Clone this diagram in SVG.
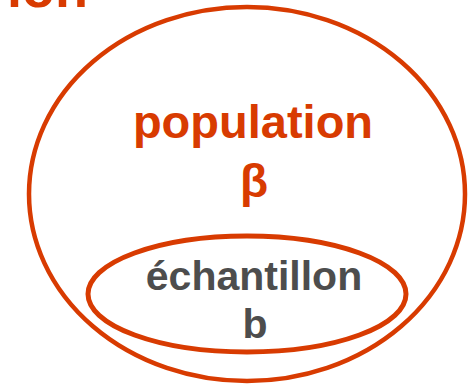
<svg xmlns="http://www.w3.org/2000/svg" width="468" height="388" viewBox="0 0 468 388">
<style>
.ell{fill:none;stroke:#D83B01;}
.t{font-family:"Liberation Sans",Arial,sans-serif;font-weight:bold;text-anchor:middle;}
.o{fill:#D83B01;}
.g{fill:#4D4D4D;}
</style>
<rect width="468" height="388" fill="#fff"/>
<text class="t o" x="88" y="7" style="text-anchor:end" font-size="54">ion</text>
<g id="population">
<ellipse class="ell" cx="247" cy="194" rx="218" ry="187" stroke-width="4.5"/>
<text class="t o" x="253" y="138" font-size="47">population</text>
<text class="t o" x="254" y="197" font-size="46">β</text>
</g>
<g id="echantillon">
<ellipse class="ell" cx="247" cy="294" rx="159" ry="58" stroke-width="5"/>
<text class="t g" x="254" y="290" font-size="41">échantillon</text>
<text class="t g" x="255" y="338" font-size="41">b</text>
</g>
<g id="connectors"/>
</svg>
